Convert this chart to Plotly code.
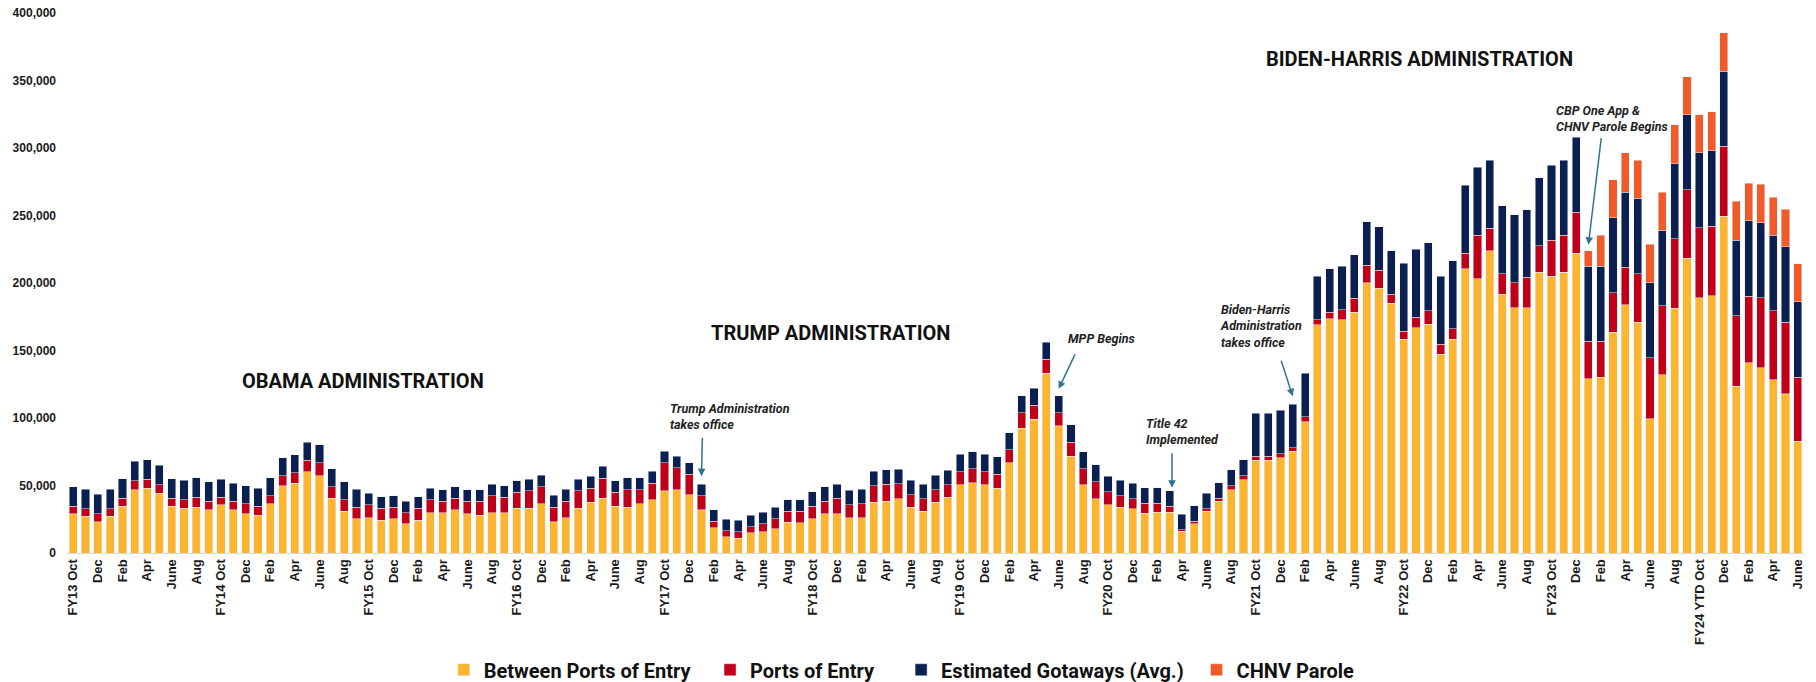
import plotly.graph_objects as go

# ---------------- data (monthly, FY13 Oct .. FY24 June) ----------------
between_ports = [
    29000, 27300, 23300, 27300, 34700, 47000, 48000, 44300, 34700, 33000, 34000, 32000,   # FY13
    35700, 32000, 29000, 28000, 36600, 50000, 51700, 60300, 57400, 40400, 31000, 25300,   # FY14
    26300, 24300, 25300, 21600, 24300, 30000, 30000, 32000, 29000, 28000, 30000, 30000,   # FY15
    33000, 33000, 36600, 23300, 26300, 33000, 37600, 40400, 34700, 33900, 36600, 39400,   # FY16
    46000, 47000, 43300, 32000, 18600, 11900, 11000, 14900, 15900, 17900, 22600, 22400,   # FY17
    25300, 29000, 29000, 26300, 26300, 37600, 38400, 40300, 33900, 31000, 37600, 41300,   # FY18
    50700, 51900, 50700, 48000, 67000, 92400, 99100, 133100, 94400, 71700, 50700, 40300,  # FY19
    35600, 33900, 32900, 29300, 30300, 30300, 16200, 21600, 31000, 38400, 47000, 54400,   # FY20
    68800, 68800, 70500, 75400, 97100, 169000, 173700, 172900, 178300, 200300, 196300, 185100,  # FY21
    158500, 167000, 169600, 147300, 158500, 210600, 203100, 223900, 191800, 181600, 181600, 207800,  # FY22
    205000, 207900, 222000, 129200, 130200, 163500, 184000, 170900, 99300, 132200, 181300, 218300,  # FY23
    188900, 190600, 249400, 123500, 140800, 137100, 128500, 118100, 82800,                 # FY24 YTD
]

ports_of_entry = [
    5700, 5600, 5900, 5600, 5900, 6700, 6700, 6400, 5900, 6600, 7300, 6400,
    5600, 6400, 7600, 6700, 5700, 7400, 7700, 8400, 9600, 8600, 8600, 8600,
    9400, 8700, 8600, 8400, 8700, 9600, 8400, 8400, 9400, 10400, 12300, 11300,
    12000, 13000, 12400, 10600, 12100, 13000, 10400, 15000, 10300, 13100, 10400, 12300,
    21000, 16100, 15100, 10300, 4900, 4700, 4900, 4700, 5700, 7400, 8400, 8600,
    9400, 9400, 11400, 9400, 10300, 12400, 12400, 11100, 9400, 9300, 9400, 9400,
    9600, 10400, 9600, 10400, 9400, 11400, 10300, 10400, 9400, 10400, 11600, 12400,
    9700, 8400, 7400, 7400, 6400, 4400, 900, 2000, 1700, 2000, 3000, 3000,
    2700, 2700, 2900, 2700, 3700, 3700, 4600, 7400, 10500, 13000, 13300, 6500,
    5800, 7600, 10000, 7500, 7800, 11500, 32300, 16700, 15000, 18700, 22500, 19800,
    26500, 27400, 30300, 27600, 26600, 29100, 27600, 36000, 45200, 51000, 51300, 50800,
    51900, 51400, 51800, 52300, 49400, 51800, 51000, 52800, 47400,
]

gotaways_avg = [
    14300, 14300, 14300, 14300, 14300, 14300, 14300, 14300, 14300, 14300, 14300, 14300,
    13300, 13300, 13300, 13300, 13300, 13300, 13300, 13300, 13300, 13300, 13300, 13300,
    8500, 8500, 8500, 8500, 8500, 8500, 8500, 8500, 8500, 8500, 8500, 8500,
    8700, 8700, 8700, 8700, 8700, 8700, 8700, 8700, 8700, 8700, 8700, 8700,
    8500, 8500, 8500, 8500, 8500, 8500, 8500, 8500, 8500, 8500, 8500, 8500,
    10700, 10700, 10700, 10700, 10700, 10700, 10700, 10700, 10700, 10700, 10700, 10700,
    12800, 12800, 12800, 12800, 12800, 12800, 12800, 12800, 12800, 12800, 12800, 12800,
    11500, 11500, 11500, 11500, 11500, 11500, 11500, 11500, 11500, 11500, 11500, 11500,
    32200, 32200, 32200, 32200, 32200, 32200, 32200, 32200, 32200, 32200, 32200, 32200,
    50300, 50300, 50300, 50300, 50300, 50300, 50300, 50300, 50300, 50300, 50300, 50300,
    55700, 55700, 55700, 55700, 55700, 55700, 55700, 55700, 55700, 55700, 55700, 55700,
    55800, 55800, 55800, 55800, 55800, 55800, 55800, 55800, 55800,
]

# CHNV parole starts with FY23 January (month index 123)
chnv_start = 123
chnv_parole = [11300, 22700, 28300, 29100, 28400, 28400, 28200, 29100, 27800,
               27900, 29100, 28400, 28900, 27900, 28300, 28400, 28100, 28100]

tick_labels = [
    "FY13 Oct", "Dec", "Feb", "Apr", "June", "Aug",
    "FY14 Oct", "Dec", "Feb", "Apr", "June", "Aug",
    "FY15 Oct", "Dec", "Feb", "Apr", "June", "Aug",
    "FY16 Oct", "Dec", "Feb", "Apr", "June", "Aug",
    "FY17 Oct", "Dec", "Feb", "Apr", "June", "Aug",
    "FY18 Oct", "Dec", "Feb", "Apr", "June", "Aug",
    "FY19 Oct", "Dec", "Feb", "Apr", "June", "Aug",
    "FY20 Oct", "Dec", "Feb", "Apr", "June", "Aug",
    "FY21 Oct", "Dec", "Feb", "Apr", "June", "Aug",
    "FY22 Oct", "Dec", "Feb", "Apr", "June", "Aug",
    "FY23 Oct", "Dec", "Feb", "Apr", "June", "Aug",
    "FY24 YTD Oct", "Dec", "Feb", "Apr", "June",
]

# ---------------- figure ----------------
months = list(range(len(between_ports)))
chnv_x = months[chnv_start:chnv_start + len(chnv_parole)]

C_BP = "#FDB52F"
C_OFO = "#C00018"
C_GOT = "#0B1F51"
C_CHNV = "#F15A29"

fig = go.Figure()
fig.add_trace(go.Bar(x=months, y=between_ports, name="Between Ports of Entry",
                     marker_color=C_BP, legend="legend"))
fig.add_trace(go.Bar(x=months, y=ports_of_entry, name="Ports of Entry",
                     marker_color=C_OFO, legend="legend2"))
fig.add_trace(go.Bar(x=months, y=gotaways_avg, name="Estimated Gotaways (Avg.)",
                     marker_color=C_GOT, legend="legend3"))
fig.add_trace(go.Bar(x=chnv_x, y=chnv_parole, name="CHNV Parole",
                     marker_color=C_CHNV, legend="legend4"))

title_font = dict(family="Roboto, Arial, sans-serif", size=20, color="#111111", weight="bold")
note_font = dict(family="Roboto, Arial, sans-serif", size=12.5, color="#222222", weight="bold", style="italic")
arrow_color = "#2E7592"

annotations = [
    dict(x=23.5, y=127700, text="OBAMA ADMINISTRATION", showarrow=False, font=title_font),
    dict(x=61.5, y=163300, text="TRUMP ADMINISTRATION", showarrow=False, font=title_font),
    dict(x=109.3, y=366100, text="BIDEN-HARRIS ADMINISTRATION", showarrow=False, font=title_font),
    # notes
    dict(x=48.3, y=101000, text="Trump Administration<br>takes office", showarrow=False,
         xanchor="left", align="left", font=note_font),
    dict(x=83.5, y=158600, text="MPP Begins", showarrow=False, font=note_font),
    dict(x=86.9, y=89700, text="Title 42<br>Implemented", showarrow=False,
         xanchor="left", align="left", font=note_font),
    dict(x=92.9, y=167800, text="Biden-Harris<br>Administration<br>takes office", showarrow=False,
         xanchor="left", align="left", font=note_font),
    dict(x=120.2, y=322200, text="CBP One App &<br>CHNV Parole Begins", showarrow=False,
         xanchor="left", align="left", font=note_font),
]
arrows = [
    (51, 56900, 1, -40),
    (80, 121600, 17, -36),
    (89.2, 48300, 0, -36),
    (99, 116100, -12, -37),
    (123, 228400, 13, -108),
]
for (tx, ty, ax, ay) in arrows:
    annotations.append(dict(x=tx, y=ty, ax=ax, ay=ay, text="", showarrow=True,
                            arrowhead=2, arrowsize=1, arrowwidth=1.5, arrowcolor=arrow_color))

legend_font = dict(family="Roboto, Arial, sans-serif", size=20, color="#111111", weight="bold")
legend_common = dict(orientation="h", xanchor="left", yref="container", y=0.018,
                     yanchor="middle", font=legend_font, bgcolor="rgba(0,0,0,0)")

fig.update_layout(
    width=1816, height=682,
    barmode="stack", bargap=0.34,
    plot_bgcolor="white", paper_bgcolor="white",
    margin=dict(l=67, r=12, t=13, b=129, autoexpand=False),
    font=dict(family="Arial, Liberation Sans, sans-serif", color="#1a1a1a"),
    showlegend=True,
    legend=dict(x=0.2169, **legend_common),
    legend2=dict(x=0.3702, **legend_common),
    legend3=dict(x=0.4802, **legend_common),
    legend4=dict(x=0.6503, **legend_common),
    annotations=annotations,
)
fig.update_xaxes(
    range=[-0.5, len(months) - 0.5], automargin=False,
    tickmode="array", tickvals=months[::2], ticktext=tick_labels,
    tickangle=-90, showgrid=False, zeroline=False,
    showline=True, linecolor="#d9d9d9", linewidth=1, ticks="",
    tickfont=dict(family="Arial, Liberation Sans, sans-serif", size=13, color="#1a1a1a", weight="bold"),
)
fig.update_yaxes(
    range=[0, 400000], tickmode="linear", tick0=0, dtick=50000, tickformat=",",
    automargin=False,
    showgrid=False, zeroline=False, showline=False, ticks="",
    ticklabelstandoff=10,
    tickfont=dict(family="Arial, Liberation Sans, sans-serif", size=12, color="#1a1a1a", weight="bold"),
)

fig.write_html("out.html", config={"displayModeBar": False},
               post_script="document.body.style.margin='0px';")
